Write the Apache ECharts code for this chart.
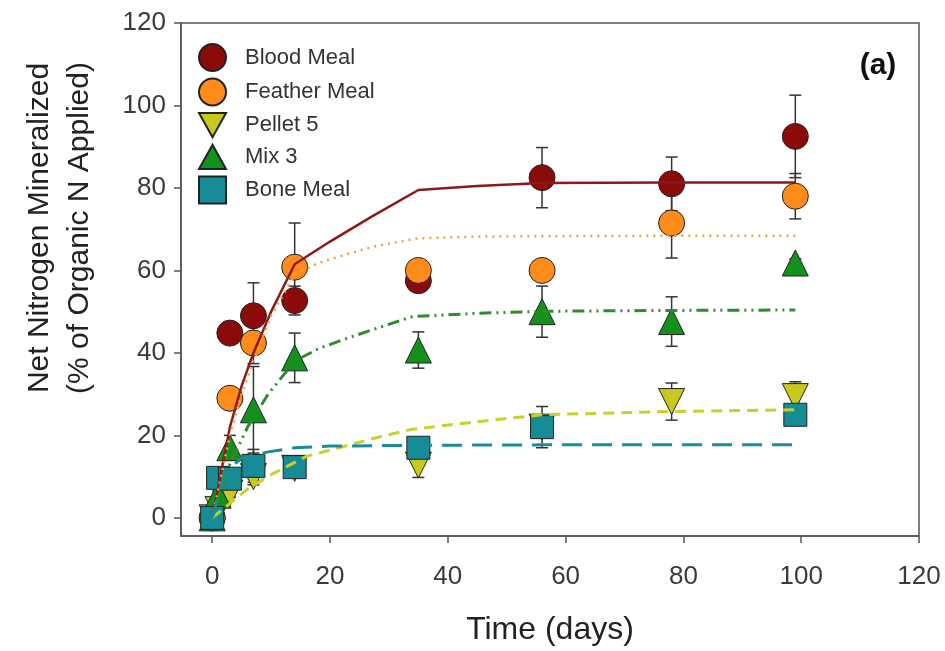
<!DOCTYPE html>
<html>
<head>
<meta charset="utf-8">
<script src="https://cdn.jsdelivr.net/npm/echarts@6/dist/echarts.min.js"></script>
<style>
  html, body { margin: 0; padding: 0; background: #fff; }
  #chart { width: 945px; height: 651px; }
</style>
</head>
<body>
<div id="chart"></div>
<script>
// sampling days (measured points)
var days = [0, 1, 3, 7, 14, 35, 56, 78, 99];

// measured values, % of organic N applied (null = not shown)
var bloodMeal   = [0, null, 44.8, 49, 52.7, 57.5, 82.5, 81, 92.5];
var bloodErr    = [0, null, 1, 8, 3.5, 2, 7.3, 6.5, 10];
var featherMeal = [0, null, 29, 42.4, 60.8, 60, 60, 71.5, 78];
var featherErr  = [0, null, 2, 5, 10.7, 1.5, 1.5, 8.5, 5.5];
var pellet5     = [0, 2, 6, 10, 12, 12.8, 22, 28.2, 29.4];
var pelletErr   = [0, 1, 1, 2, 1.5, 3, 2.5, 4.5, 3.6];
var mix3        = [0, 5.5, 17, 26.2, 38.8, 40.7, 50, 47.6, 61.8];
var mixErr      = [0, 1, 3, 10.5, 6, 4.4, 6.2, 6, 1];
var boneMeal    = [0, 9.7, 9.5, 12.6, 12.3, 17, 22, null, 25];
var boneErr     = [0, 1, 1, 4, 1.5, 2, 5, null, 1.5];

// fitted curves
var bloodFitT   = [0, 3, 5, 7, 10, 14, 20, 27, 35, 45, 56, 78, 99];
var bloodFitV   = [0, 22, 32, 40, 50, 61.5, 67, 73, 79.5, 80.5, 81.2, 81.3, 81.3];
var featherFitT = [0, 3, 5, 7, 10, 14, 18, 23, 28, 35, 45, 56, 78, 99];
var featherFitV = [0, 20, 30, 38, 49, 59, 61.8, 64, 66, 67.8, 68.2, 68.3, 68.4, 68.4];
var mixFitT     = [0, 3, 6, 9.5, 14, 18, 23, 28, 34, 45, 56, 78, 99];
var mixFitV     = [0, 13, 22, 30, 38, 41, 43.6, 46, 48.8, 49.6, 50.1, 50.3, 50.4];
var pelletFitT  = [0, 3, 6, 10, 16, 21, 28, 34, 45, 56, 78, 99];
var pelletFitV  = [0, 3.5, 7, 10.5, 14.9, 16.8, 19.5, 21.5, 23.3, 25, 25.8, 26.2];
var boneFitT    = [0, 1.5, 3, 5, 9.5, 14, 20, 35, 56, 99];
var boneFitV    = [0, 8, 12, 14.5, 16, 17, 17.4, 17.6, 17.7, 17.7];

var xTicks = [0, 20, 40, 60, 80, 100, 120];
var yTicks = [0, 20, 40, 60, 80, 100, 120];

var font = 'Liberation Sans, Arial, sans-serif';

function pts(vals) {
	var out = [];
	for (var i = 0; i < days.length; i++) {
		if (vals[i] != null) out.push([days[i], vals[i]]);
	}
	return out;
}
function errPts(vals, errs) {
	var out = [];
	for (var i = 0; i < days.length; i++) {
		if (vals[i] != null && errs[i] > 0.5) out.push([days[i], vals[i], errs[i]]);
	}
	return out;
}
function curve(t, v) {
	return t.map(function (d, i) { return [d, v[i]]; });
}

function errorBars(params, api) {
	var x = api.value(0), y = api.value(1), e = api.value(2);
	var hi = api.coord([x, y + e]);
	var lo = api.coord([x, y - e]);
	var w = 6;
	var st = { stroke: '#333', lineWidth: 1.5 };
	return {
		type: 'group',
		children: [
			{ type: 'line', shape: { x1: hi[0], y1: hi[1], x2: lo[0], y2: lo[1] }, style: st },
			{ type: 'line', shape: { x1: hi[0] - w, y1: hi[1], x2: hi[0] + w, y2: hi[1] }, style: st },
			{ type: 'line', shape: { x1: lo[0] - w, y1: lo[1], x2: lo[0] + w, y2: lo[1] }, style: st }
		]
	};
}

var mats = [
	{ name: 'Blood Meal', vals: bloodMeal, errs: bloodErr, color: '#8b0a0a', symbol: 'circle', size: 26,
	  fit: curve(bloodFitT, bloodFitV), line: { color: '#8b1a1a', width: 2.5, type: 'solid' } },
	{ name: 'Feather Meal', vals: featherMeal, errs: featherErr, color: '#ff8c1a', symbol: 'circle', size: 26,
	  fit: curve(featherFitT, featherFitV), line: { color: '#f0a040', width: 2.5, type: [2, 5] } },
	{ name: 'Pellet 5', vals: pellet5, errs: pelletErr, color: '#c8c81e', symbol: 'path://M0,0 L10,0 L5,9 Z', size: 26,
	  fit: curve(pelletFitT, pelletFitV), line: { color: '#c8d02a', width: 3, type: [11, 7] } },
	{ name: 'Mix 3', vals: mix3, errs: mixErr, color: '#14901c', symbol: 'path://M5,0 L10,9 L0,9 Z', size: 26,
	  fit: curve(mixFitT, mixFitV), line: { color: '#2e8b2e', width: 3, type: [12, 5, 2, 5, 2, 5] } },
	{ name: 'Bone Meal', vals: boneMeal, errs: boneErr, color: '#168c96', symbol: 'rect', size: 23,
	  fit: curve(boneFitT, boneFitV), line: { color: '#1a8c96', width: 3, type: [20, 10] } }
];

var series = [];
mats.forEach(function (m) {
	series.push({
		name: m.name + ' err', type: 'custom', renderItem: errorBars,
		data: errPts(m.vals, m.errs), z: 1, silent: true
	});
});
mats.forEach(function (m, k) {
	series.push({
		name: m.name, type: 'scatter', data: pts(m.vals), z: 2 + k * 0.1,
		symbol: m.symbol, symbolSize: m.size,
		itemStyle: { color: m.color, borderColor: '#222', borderWidth: 1, opacity: 1 }
	});
});
mats.forEach(function (m) {
	series.push({
		name: m.name + ' fit', type: 'line', data: m.fit, z: 4,
		showSymbol: false, symbol: 'none', smooth: false,
		lineStyle: m.line
	});
});

var myChart = echarts.init(document.getElementById('chart'));
var option = {
	backgroundColor: '#fff',
	animation: false,
	textStyle: { fontFamily: font },
	grid: {
		left: 181, right: 26, top: 23, bottom: 115,
		show: true, borderColor: '#555', borderWidth: 1.5
	},
	legend: {
		data: mats.map(function (m) { return m.name; }),
		orient: 'vertical', left: 193, top: 38,
		itemWidth: 27, itemHeight: 27, itemGap: 5.5,
		textStyle: { fontSize: 22, color: '#333', fontFamily: font, padding: [0, 0, 0, 14] }
	},
	xAxis: {
		type: 'value', min: -5.3, max: 120,
		name: 'Time (days)', nameLocation: 'middle', nameGap: 78,
		nameTextStyle: { fontSize: 32, color: '#222', fontFamily: font },
		axisLine: { show: true, onZero: false, lineStyle: { color: '#555', width: 1.5 } },
		axisTick: { show: true, customValues: xTicks, length: 7, lineStyle: { color: '#555', width: 1.5 } },
		axisLabel: { customValues: xTicks, fontSize: 26, color: '#3a3a3a', margin: 28, fontFamily: font },
		splitLine: { show: false }
	},
	yAxis: {
		type: 'value', min: -4.4, max: 120,
		axisLine: { show: true, onZero: false, lineStyle: { color: '#555', width: 1.5 } },
		axisTick: { show: true, customValues: yTicks, length: 7, lineStyle: { color: '#555', width: 1.5 } },
		axisLabel: { customValues: yTicks, fontSize: 26, color: '#3a3a3a', margin: 15, fontFamily: font },
		splitLine: { show: false }
	},
	graphic: [
		{
			type: 'text', x: 60, y: 228, rotation: Math.PI / 2,
			style: {
				text: 'Net Nitrogen Mineralized\n(% of Organic N Applied)',
				font: '30px ' + font, fill: '#222', lineHeight: 40,
				textAlign: 'center', textVerticalAlign: 'middle'
			}
		},
		{
			type: 'text', x: 878, y: 66,
			style: {
				text: '(a)', font: 'bold 30px ' + font, fill: '#111',
				textAlign: 'center', textVerticalAlign: 'middle'
			}
		}
	],
	series: series
};
myChart.setOption(option);
</script>
</body>
</html>
